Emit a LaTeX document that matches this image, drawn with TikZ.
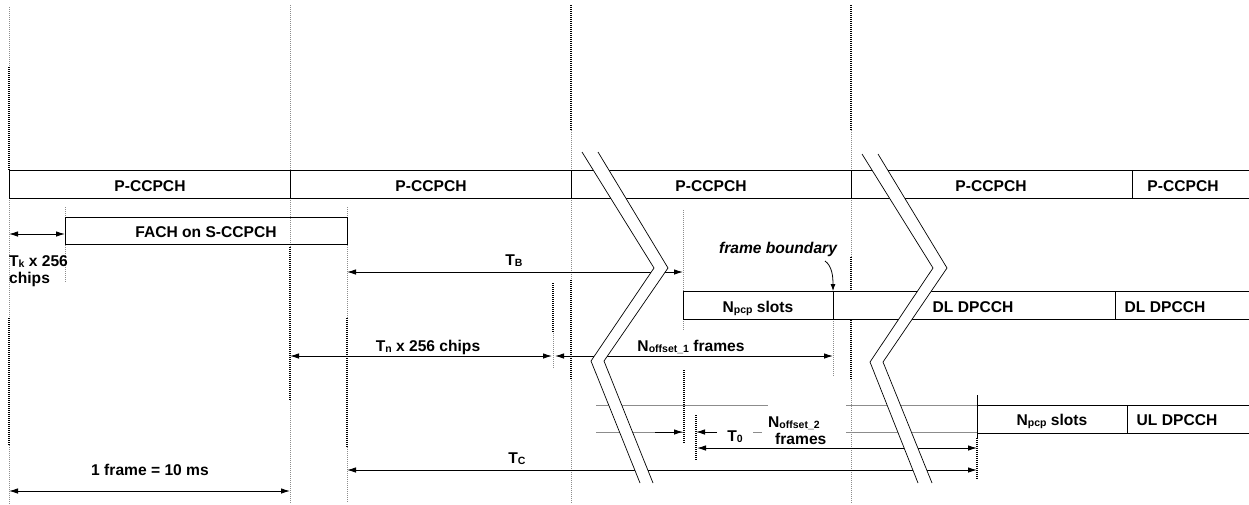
\documentclass[tikz,border=0pt]{standalone}
\usepackage{fontspec}
\setmainfont{Liberation Sans}
\usetikzlibrary{arrows.meta}
\newcommand\sbx[1]{\raisebox{-1.5pt}{\fontsize{10.5}{12}\selectfont #1}}
\begin{document}
\begin{tikzpicture}[x=1pt,y=-1pt,
  lbl/.style={anchor=base, inner sep=0pt, font=\fontsize{15.6}{18}\selectfont\bfseries},
  box/.style={draw=black, line width=0.9pt},
  gline/.style={draw=black!45, line width=0.9pt},
  gdot/.style={draw=black!45, line width=0.7pt, dash pattern=on 1pt off 1pt},
  kdot/.style={draw=black, line width=1.1pt, dash pattern=on 1pt off 1pt},
  tip/.tip={Latex[length=9pt,width=5.5pt]},
  dim/.style={draw=black, line width=0.9pt, tip-tip},
  rarr/.style={draw=black, line width=0.9pt, -tip},
  brk/.style={draw=black, line width=0.7pt},
  ]
\useasboundingbox (0,0) rectangle (1249,504);
\fill[white] (0,0) rectangle (1249,504);

% ---- vertical grid lines ----
\draw[gdot] (9,7) -- (9,67);
\draw[kdot] (9,67) -- (9,170);
\draw[gdot] (9,198) -- (9,318);
\draw[kdot] (9,318) -- (9,445);
\draw[gdot] (9,445) -- (9,504);

\draw[gdot] (290,5) -- (290,170);
\draw[gdot] (290,198) -- (290,247);
\draw[kdot] (290,247) -- (290,400);
\draw[gdot] (290,400) -- (290,504);

\draw[kdot] (571,5) -- (571,130);
\draw[gdot] (571,130) -- (571,170);
\draw[gdot] (571,198) -- (571,280);
\draw[kdot] (571,280) -- (571,380);
\draw[gdot] (571,380) -- (571,504);

\draw[kdot] (851,5) -- (851,130);
\draw[gdot] (851,130) -- (851,170);
\draw[gdot] (851,198) -- (851,257);
\draw[kdot] (851,257) -- (851,290);
\draw[kdot] (851,320) -- (851,380);
\draw[gdot] (851,380) -- (851,504);

\draw[gdot] (65,207) -- (65,282);
\draw[gdot] (347,207) -- (347,318);
\draw[kdot] (347,318) -- (347,447);
\draw[gdot] (347,447) -- (347,502);
\draw[kdot] (553,283) -- (553,333);
\draw[gdot] (553,333) -- (553,368);
\draw[gdot] (683,210) -- (683,291);
\draw[gdot] (683,319) -- (683,331);
\draw[kdot] (684,370) -- (684,443);
\draw[kdot] (696,415) -- (696,460);
\draw[gdot] (833,319) -- (833,377);
\draw[kdot] (977,438) -- (977,480);

% ---- P-CCPCH row ----
\draw[box] (1249,170) -- (9,170) -- (9,198) -- (1249,198);
\foreach \x in {290,571,851,1132} \draw[box] (\x,170) -- (\x,198);
\node[lbl] (p1) at (150,191) {P-CCPCH};
\node[lbl] (p2) at (431,191) {P-CCPCH};
\node[lbl] (p3) at (711,191) {P-CCPCH};
\node[lbl] (p4) at (991,191) {P-CCPCH};
\node[lbl] (p5) at (1183,191) {P-CCPCH};

% ---- FACH ----
\draw[box] (65,217) rectangle (347,244);
\node[lbl] (fach) at (206,237) {FACH on S-CCPCH};

% ---- DL row ----
\draw[box] (1249,291) -- (683,291) -- (683,319) -- (1249,319);
\draw[box] (833,291) -- (833,319);
\draw[box] (1115,291) -- (1115,319);
\node[lbl] (npcp1) at (758,312) {N\sbx{pcp} slots};
\node[lbl] (dl1) at (973,312) {DL DPCCH};
\node[lbl] (dl2) at (1165,312) {DL DPCCH};

% ---- UL row ----
\draw[gline] (596,405) -- (768,405);
\draw[gline] (846,405) -- (977,405);
\draw[gline] (596,432) -- (683,432);
\draw[gline] (753,432) -- (762,432);
\draw[gline] (846,432) -- (977,432);
\draw[box] (1249,405) -- (977,405);
\draw[box] (977,433) -- (1249,433);
\draw[box] (977,395) -- (977,438);
\draw[box] (1127,405) -- (1127,433);
\node[lbl] (npcp2) at (1052,425) {N\sbx{pcp} slots};
\node[lbl] (ul) at (1177,425) {UL DPCCH};

% ---- labels ----
\node[lbl, anchor=base west] (tk1) at (9,266) {T\sbx{k} x 256};
\node[lbl, anchor=base west] (tk2) at (9,283) {chips};
\node[lbl] (tb) at (514,265) {T\sbx{B}};
\node[lbl, font=\fontsize{15.6}{18}\selectfont\bfseries\itshape] (fb) at (778,253) {frame boundary};
\node[lbl] (tn) at (428,351) {T\sbx{n} x 256 chips};
\node[lbl] (no1) at (691,351) {N\sbx{offset\_1} frames};
\node[lbl, anchor=base west] (no2) at (768,427) {N\sbx{offset\_2}};
\node[lbl, anchor=base west] (fr2) at (775,444) {frames};
\node[lbl] (t0) at (735,441) {T\sbx{0}};
\node[lbl] (tc) at (517,463) {T\sbx{C}};
\node[lbl] (fr) at (150,475) {1 frame = 10 ms};

% ---- arrow end points ----
\coordinate (tkA) at (9,234);   \coordinate (tkB) at (65,234);
\coordinate (tbA) at (347,272); \coordinate (tbB) at (683,272);
\coordinate (tnA) at (290,356); \coordinate (tnB) at (552,356);
\coordinate (o1A) at (555,356); \coordinate (o1B) at (833,356);
\coordinate (t0A) at (655,432); \coordinate (t0B) at (683,432);
\coordinate (t0C) at (717,432); \coordinate (t0D) at (696,432);
\coordinate (o2A) at (697,448); \coordinate (o2B) at (977,448);
\coordinate (tcA) at (347,470); \coordinate (tcB) at (977,470);
\coordinate (frA) at (9,491);   \coordinate (frB) at (290,491);
\coordinate (fbA) at (825,261); \coordinate (fbB) at (833,291);

\draw[dim] (tkA) -- (tkB);
\draw[dim] (tbA) -- (tbB);
\draw[dim] (tnA) -- (tnB);
\draw[dim] (o1A) -- (o1B);
\draw[rarr] (t0A) -- (t0B);
\draw[rarr] (t0C) -- (t0D);
\draw[dim] (o2A) -- (o2B);
\draw[dim] (tcA) -- (tcB);
\draw[dim] (frA) -- (frB);
\draw[draw=black, line width=0.8pt, -{Latex[length=7pt,width=5pt]}] (fbA) .. controls (832,266) and (833,276) .. (fbB);

% ---- break marks ----
\fill[white] (582,152) -- (654,268) -- (591,361) -- (640,483) -- (653,483) -- (604,361) -- (668,268) -- (598,152) -- cycle;
\draw[brk] (582,152) -- (654,268) -- (591,361) -- (640,483);
\draw[brk] (598,152) -- (668,268) -- (604,361) -- (653,483);
\fill[white] (862,154) -- (933,268) -- (870,362) -- (918,483) -- (932,483) -- (883,362) -- (947,268) -- (878,154) -- cycle;
\draw[brk] (862,154) -- (933,268) -- (870,362) -- (918,483);
\draw[brk] (878,154) -- (947,268) -- (883,362) -- (932,483);
\end{tikzpicture}
\end{document}
